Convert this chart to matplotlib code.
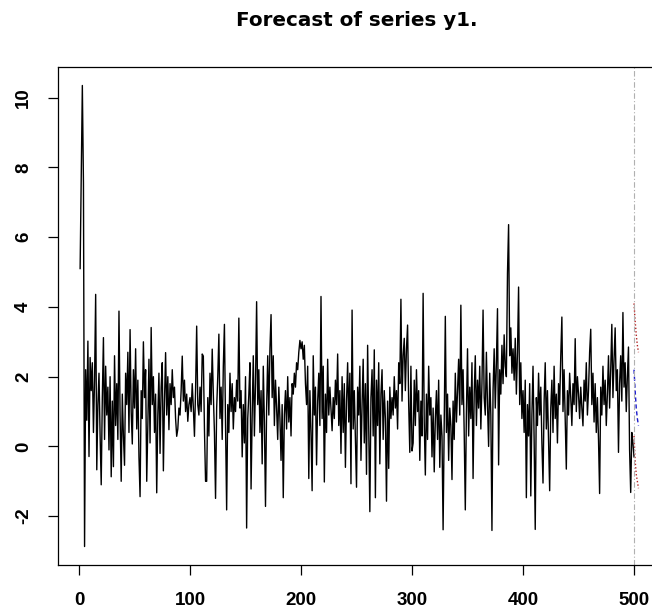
import matplotlib

matplotlib.use("Agg")
import matplotlib.pyplot as plt
import numpy as np

plt.rcParams["font.family"] = ["Liberation Sans", "DejaVu Sans"]
plt.rcParams["axes.unicode_minus"] = False

# observed series y1 (t = 1..500)
y1 = [
    5.10, 7.70, 10.35, 7.55, -2.87, 2.20, 0.75, 3.02, -0.29, 2.55, 1.60, 2.40, 0.40, 1.90, 4.36, -0.67, 1.20, 2.10, 0.30, -1.10,
    1.40, 3.12, 0.20, 2.30, 0.90, 1.70, -0.10, 2.00, -0.87, 1.30, -0.58, 2.60, 0.60, 1.80, 0.20, 3.88, 0.90, -1.00, 1.50, 0.30,
    -0.54, 2.10, 1.20, 2.70, 0.40, 3.35, 1.00, 0.07, 2.20, 1.10, 2.80, 0.50, 1.90, -0.30, -1.44, 1.60, 0.80, 3.00, 1.40, 2.20,
    -1.00, 0.60, 2.50, 0.10, 3.41, 1.20, 2.00, 0.40, 1.50, -1.33, 0.90, 2.10, -0.20, 1.70, 2.40, -0.70, 1.30, 2.69, 0.90, 2.00,
    0.48, 1.80, 1.20, 2.20, 1.40, 1.70, 0.80, 0.29, 0.50, 1.10, 0.90, 1.60, 2.59, 1.30, 1.90, 1.00, 1.50, 0.72, 1.20, 1.40,
    1.00, 1.80, 1.10, 0.29, 1.60, 3.45, 1.20, 0.90, 1.70, 1.00, 2.65, 2.59, 0.50, -1.00, -1.00, 1.40, 0.30, 2.10, 1.20, 2.79,
    1.50, 0.40, -1.49, 1.10, 2.00, 3.22, 0.80, 1.70, 0.20, 2.30, 3.50, 0.60, -1.82, 1.20, 0.40, 2.10, 1.00, 1.80, 0.50, 1.40,
    1.00, 1.90, 1.30, 3.68, 1.10, 1.60, -0.30, 1.20, 0.10, 2.00, -2.34, 0.80, 1.50, 2.40, -1.22, 0.90, 2.60, 0.30, 1.80, 4.15,
    1.20, 2.20, 0.40, 1.60, -0.50, 2.30, 0.70, -1.72, 1.10, 2.60, 0.90, 2.80, 3.78, 1.40, 2.60, 0.60, 1.90, 1.10, 0.20, 1.70,
    0.80, -0.40, 1.20, -1.47, 0.90, 1.60, 0.50, 2.00, 0.70, 1.40, 0.30, 1.80, 1.50, 2.10, 1.70, 2.40, 2.20, 2.70, 3.04, 2.80,
    3.00, 2.50, 2.90, 1.80, 1.20, 2.30, -0.92, 1.60, 0.40, -1.27, 2.60, 0.90, 1.70, -0.53, 1.30, 2.10, 0.60, 4.30, 0.80, 2.30,
    -1.02, 1.50, 0.40, 2.50, 0.90, 1.70, 1.10, 0.45, 1.40, 0.80, 1.90, 1.20, 2.65, 0.60, 1.60, -0.20, 2.00, 0.40, 1.80, -0.60,
    1.30, 2.40, 0.70, 2.10, -1.07, 3.91, 0.50, 1.60, 0.20, -1.17, 1.70, 0.90, 2.30, -0.40, 1.20, 2.50, 0.10, 1.80, -0.80, 2.90,
    0.50, -1.87, 1.40, 2.20, 0.30, 2.77, -1.47, 1.90, 0.60, 2.40, -0.50, 1.50, 2.20, 0.20, 1.60, 0.80, -1.57, 1.30, -0.63, 1.70,
    0.80, 1.40, 0.90, 2.00, 1.10, 1.60, 0.50, 2.40, 1.80, 4.22, 1.30, 2.60, 3.10, 1.60, 2.80, 3.48, 1.20, -0.17, 2.30, -0.13,
    0.10, 1.90, 0.60, 2.20, 1.00, 1.60, -0.40, 1.30, 0.30, 4.39, 0.70, -0.82, 1.50, 0.20, 2.30, 0.90, 1.40, -0.30, 1.10, -0.73,
    0.80, 1.60, 0.20, 1.90, -0.60, 0.90, 0.30, -2.39, 0.70, 3.73, 0.40, 1.50, -0.40, 1.10, 0.60, -0.95, 1.30, 0.20, 2.10, 0.70,
    1.60, 2.50, 0.90, 4.05, 1.20, 2.20, 0.40, -1.82, 1.00, 2.80, 0.30, 1.70, 0.80, 2.40, -0.92, 1.50, 2.60, 0.60, 1.90, 1.10,
    2.30, 0.50, 1.80, 3.91, 1.40, 0.90, 2.70, 1.20, 0.00, 2.10, 0.90, -2.41, 1.60, 2.80, 1.10, 2.40, 3.95, -0.53, 2.20, 1.50,
    2.90, 1.80, 3.20, 2.30, 2.00, 4.97, 6.36, 2.60, 3.40, 2.10, 2.80, 1.90, 3.10, 1.50, 2.70, 4.57, 1.20, 2.40, 0.80, 1.60,
    0.40, 1.90, -1.47, 1.20, 0.30, 1.80, -1.42, 0.90, 2.30, 0.20, -2.38, 1.40, 0.60, 2.10, 0.90, 1.70, 0.10, -1.05, 1.30, 2.40,
    0.50, 1.60, 0.20, -1.27, 1.10, 1.90, 0.40, 2.30, 0.80, 1.50, 0.10, 1.80, 1.20, 2.60, 3.71, 1.00, 2.20, 0.70, -0.65, 1.60,
    0.90, 2.10, 1.40, 0.60, 1.80, 1.20, 3.09, 1.00, 2.00, 1.50, 0.80, 1.70, 1.10, 0.59, 1.90, 1.30, 2.40, 0.90, 1.60, 2.70,
    3.36, 1.20, 2.10, 0.70, 1.80, 0.40, 1.40, 0.20, -1.35, 1.70, 0.90, 2.30, 1.20, 1.90, 0.60, 1.50, 2.60, 1.10, 2.20, 3.50,
    1.40, 2.50, 3.40, 1.60, 2.20, -0.17, 1.80, 2.60, 1.30, 3.84, 1.70, 2.40, 1.00, 2.00, 2.85, -0.10, -1.32, 0.40, 0.10, -0.30,
]

# forecast steps (squeezed against the end of the sample)
fcst_t = [500, 501, 502, 503, 504]
fcst = [2.20, 1.60, 1.10, 0.80, 0.60]
upper = [4.10, 3.60, 3.20, 2.90, 2.70]
lower = [0.30, -0.40, -0.80, -1.00, -1.20]

t = np.arange(1, len(y1) + 1)

fig = plt.figure(figsize=(6.52, 6.12), dpi=100)
# plot box runs past the right edge of the picture, as in the original
ax = fig.add_axes([57.7 / 652, 47 / 612, 604.3 / 652, 498 / 612])

ax.plot(t, y1, color="black", lw=1.0)
ax.plot(fcst_t, fcst, color="#1a1acd", lw=1.0, ls=(0, (3, 2)))
ax.plot(fcst_t, upper, color="#b22222", lw=1.0, ls=(0, (1, 1.5)))
ax.plot(fcst_t, lower, color="#b22222", lw=1.0, ls=(0, (1, 1.5)))
ax.axvline(500, color="#b0b0b0", lw=0.8, ls=(0, (5, 2, 1, 2)))

ax.set_xlim(-19.2, 525.2)
ax.set_ylim(-3.40, 10.88)
ax.set_xticks([0, 100, 200, 300, 400, 500])
ax.set_yticks([-2, 0, 2, 4, 6, 8, 10])
ax.tick_params(axis="both", direction="out", length=7, width=0.9, labelsize=13.5)
ax.tick_params(axis="x", pad=12.5)
ax.tick_params(axis="y", pad=11.5, labelrotation=90)
for lab in ax.get_xticklabels() + ax.get_yticklabels():
    lab.set_fontweight("bold")
for lab in ax.get_yticklabels():
    lab.set_verticalalignment("center")
for s in ax.spines.values():
    s.set_linewidth(0.9)

fig.text(357 / 652, 1 - 20 / 612, "Forecast of series y1.", ha="center", va="center",
         fontsize=14.3, fontweight="bold", family=["DejaVu Sans"])

fig.savefig("out.png", dpi=100)
